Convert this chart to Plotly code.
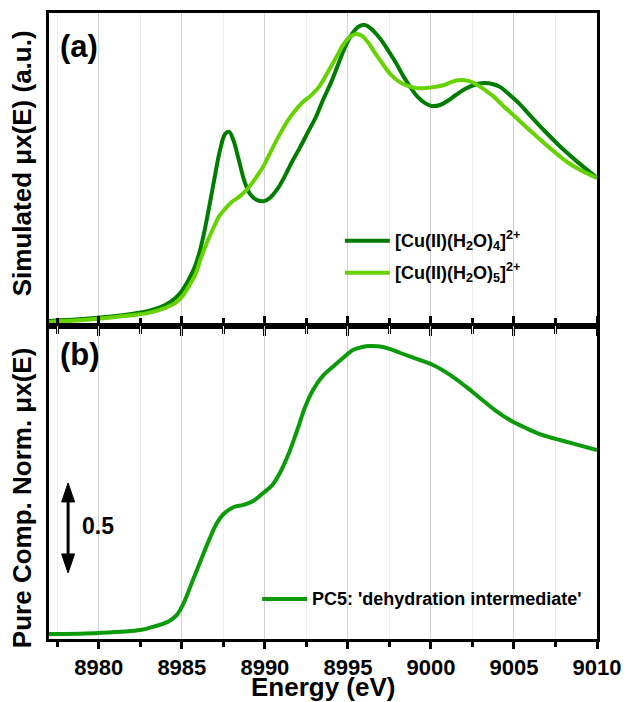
import plotly.graph_objects as go

# ---- (a) simulated XANES spectra ----
energy_a4 = [8977.0, 8979.0, 8981.0, 8983.0, 8984.0, 8984.6, 8985.0, 8985.4, 8985.8, 8986.1,
             8986.4, 8986.7, 8987.0, 8987.3, 8987.6, 8987.85, 8988.1, 8988.4, 8988.75, 8989.1,
             8989.5, 8989.95, 8990.3, 8990.8, 8991.2, 8991.6, 8992.1, 8992.6, 8993.1, 8993.5,
             8994.0, 8994.4, 8994.8, 8995.25, 8995.6, 8995.9, 8996.2, 8996.55, 8997.0, 8997.4,
             8997.9, 8998.3, 8998.8, 8999.2, 8999.65, 9000.05, 9000.55, 9001.0, 9001.5, 9002.05,
             9002.6, 9003.2, 9003.7, 9004.15, 9004.75, 9005.35, 9005.95, 9006.85, 9007.75, 9008.7,
             9010.0]
mu_cu_h2o4 = [0.016, 0.022, 0.032, 0.048, 0.067, 0.089, 0.112, 0.147, 0.192, 0.243,
              0.313, 0.396, 0.482, 0.562, 0.613, 0.620, 0.594, 0.537, 0.466, 0.422,
              0.403, 0.399, 0.409, 0.441, 0.479, 0.521, 0.569, 0.620, 0.671, 0.722,
              0.780, 0.834, 0.888, 0.933, 0.955, 0.962, 0.958, 0.942, 0.914, 0.882,
              0.840, 0.802, 0.760, 0.732, 0.712, 0.703, 0.706, 0.719, 0.738, 0.757,
              0.770, 0.776, 0.773, 0.764, 0.738, 0.709, 0.674, 0.623, 0.575, 0.530,
              0.473]

energy_a5 = [8977.0, 8979.0, 8981.0, 8983.0, 8984.0, 8984.6, 8985.0, 8985.4, 8985.8, 8986.15,
             8986.5, 8986.9, 8987.25, 8987.6, 8988.0, 8988.5, 8989.0, 8989.45, 8989.95, 8990.4,
             8990.9, 8991.4, 8991.9, 8992.35, 8992.85, 8993.3, 8993.8, 8994.3, 8994.75, 8995.1,
             8995.5, 8995.85, 8996.2, 8996.6, 8997.1, 8997.6, 8998.1, 8998.6, 8999.15, 8999.7,
             9000.25, 9000.8, 9001.25, 9001.75, 9002.25, 9002.7, 9003.25, 9003.8, 9004.35, 9004.9,
             9005.6, 9006.4, 9007.3, 9008.2, 9009.1, 9010.0]
mu_cu_h2o5 = [0.013, 0.019, 0.029, 0.042, 0.058, 0.073, 0.093, 0.125, 0.163, 0.217,
              0.265, 0.313, 0.351, 0.374, 0.396, 0.415, 0.441, 0.473, 0.514, 0.562,
              0.613, 0.658, 0.693, 0.719, 0.740, 0.767, 0.812, 0.859, 0.901, 0.923,
              0.933, 0.927, 0.907, 0.875, 0.837, 0.802, 0.780, 0.767, 0.760, 0.760,
              0.764, 0.770, 0.780, 0.786, 0.783, 0.773, 0.754, 0.732, 0.703, 0.677,
              0.642, 0.604, 0.562, 0.524, 0.495, 0.473]

# ---- (b) pure component PC5 ----
energy_b = [8977.0, 8980.0, 8982.5, 8983.25, 8983.85, 8984.3, 8984.7, 8985.05, 8985.35, 8985.65,
            8986.1, 8986.7, 8987.1, 8987.5, 8988.1, 8988.7, 8989.3, 8989.9, 8990.45, 8990.9,
            8991.4, 8991.95, 8992.4, 8992.9, 8993.5, 8994.1, 8994.7, 8995.3, 8995.85, 8996.35,
            8996.95, 8997.55, 8998.15, 8999.35, 9000.25, 9001.15, 9002.05, 9002.95, 9003.85, 9004.75,
            9005.65, 9006.55, 9007.45, 9008.35, 9010.0]
mu_pc5 = [0.000, 0.006, 0.022, 0.039, 0.056, 0.075, 0.106, 0.160, 0.225, 0.295,
          0.400, 0.535, 0.615, 0.665, 0.704, 0.717, 0.739, 0.783, 0.828, 0.894,
          0.994, 1.133, 1.255, 1.355, 1.435, 1.485, 1.533, 1.578, 1.594, 1.600,
          1.597, 1.583, 1.561, 1.522, 1.489, 1.439, 1.378, 1.311, 1.244, 1.189,
          1.147, 1.110, 1.085, 1.063, 1.022]

name_a4 = "[Cu(II)(H<sub>2</sub>O)<sub>4</sub>]<sup>2+</sup>"
name_a5 = "[Cu(II)(H<sub>2</sub>O)<sub>5</sub>]<sup>2+</sup>"
name_b = "PC5: 'dehydration intermediate'"

x_range = [8977, 9010]
x_ticks = [8980, 8985, 8990, 8995, 9000, 9005, 9010]
scale_bar = 0.5          # length of the vertical scale arrow in (b)
scale_bar_base = 0.339   # lower end of the scale arrow
scale_bar_x = 8978.15

c_dark = "#007d00"
c_light = "#66d200"
c_pc5 = "#0a9a0a"
FONT = "Liberation Sans"
SMOOTH = 1.0

fig = go.Figure()
fig.add_trace(go.Scatter(x=energy_a4, y=mu_cu_h2o4, name=name_a4, mode="lines",
                         line=dict(color=c_dark, width=4, shape="spline", smoothing=SMOOTH),
                         xaxis="x", yaxis="y", showlegend=False))
fig.add_trace(go.Scatter(x=energy_a5, y=mu_cu_h2o5, name=name_a5, mode="lines",
                         line=dict(color=c_light, width=4, shape="spline", smoothing=SMOOTH),
                         xaxis="x", yaxis="y", showlegend=False))
fig.add_trace(go.Scatter(x=energy_b, y=mu_pc5, name=name_b, mode="lines",
                         line=dict(color=c_pc5, width=4, shape="spline", smoothing=SMOOTH),
                         xaxis="x2", yaxis="y2", showlegend=False))

common_x = dict(range=x_range, tickvals=x_ticks, showline=True, linewidth=3, linecolor="black",
                ticks="outside", ticklen=7, tickwidth=3, tickcolor="black", automargin=False,
                showgrid=True, gridcolor="#d2d2d2", gridwidth=1, zeroline=False,
                minor=dict(dtick=2.5, ticks="outside", ticklen=5, tickwidth=3, tickcolor="black",
                           showgrid=True, gridcolor="#ededed", gridwidth=1),
                tickfont=dict(family=FONT, size=22, color="black", weight="bold"))
common_y = dict(showline=True, linewidth=3, linecolor="black", mirror=True, ticks="",
                showticklabels=False, showgrid=False, zeroline=False, automargin=False)

fig.update_layout(
    width=624, height=702,
    margin=dict(l=49, r=27, t=13, b=63),
    paper_bgcolor="white", plot_bgcolor="white",
    font=dict(family=FONT, color="black"),
    xaxis=dict(common_x, anchor="y", mirror=True, showticklabels=False),
    yaxis=dict(common_y, domain=[0.5, 1.0], range=[0, 1.0]),
    xaxis2=dict(common_x, anchor="y2", mirror="ticks"),
    yaxis2=dict(common_y, domain=[0.0, 0.5], range=[-0.028, 1.711]),
)

bold = dict(family=FONT, color="black", weight="bold")
annotations = [
    dict(text="Energy (eV)", xref="paper", yref="paper", x=0.5, y=0, yshift=-48,
         xanchor="center", yanchor="middle", showarrow=False, font=dict(bold, size=26)),
    dict(text="Simulated μx(E) (a.u.)", xref="paper", yref="paper", x=0, y=0.76,
         xanchor="center", yanchor="middle", xshift=-27, textangle=-90, showarrow=False,
         font=dict(bold, size=26)),
    dict(text="Pure Comp. Norm. μx(E)", xref="paper", yref="paper", x=0, y=0.225,
         xanchor="center", yanchor="middle", xshift=-27, textangle=-90, showarrow=False,
         font=dict(bold, size=26)),
    dict(text="(a)", xref="paper", yref="paper", x=0.017, y=0.946, xanchor="left",
         yanchor="middle", showarrow=False, font=dict(bold, size=31)),
    dict(text="(b)", xref="paper", yref="paper", x=0.017, y=0.454, xanchor="left",
         yanchor="middle", showarrow=False, font=dict(bold, size=31)),
    dict(text="0.5", xref="paper", yref="paper", x=0.089, y=0.1805, xanchor="center",
         yanchor="middle", showarrow=False, font=dict(bold, size=23)),
]

# hand-drawn legend entries
legend_rows = [
    (name_a4, c_dark, 0.540, 0.622, 0.636),
    (name_a5, c_light, 0.540, 0.622, 0.585),
    (name_b, c_pc5, 0.389, 0.471, 0.064),
]
shapes = []
for text, col, x0, x1, y in legend_rows:
    shapes.append(dict(type="line", xref="paper", yref="paper", x0=x0, x1=x1, y0=y, y1=y,
                       line=dict(color=col, width=4)))
    annotations.append(dict(text=text, xref="paper", yref="paper", x=x1 + 0.006, y=y,
                            xanchor="left", yanchor="middle", showarrow=False,
                            font=dict(bold, size=18)))

# vertical scale arrow in (b)
top_end = scale_bar_base + scale_bar
head_len, head_half = 19, 6.5
shapes.append(dict(type="line", xref="x2", yref="y2", x0=scale_bar_x, x1=scale_bar_x,
                   y0=scale_bar_base + 0.06, y1=top_end - 0.06, line=dict(color="black", width=3)))
shapes.append(dict(type="path", xref="x2", yref="y2", xsizemode="pixel", ysizemode="pixel",
                   xanchor=scale_bar_x, yanchor=top_end,
                   path=f"M0,0 L{-head_half},{-head_len} L{head_half},{-head_len} Z",
                   fillcolor="black", line=dict(color="black", width=1)))
shapes.append(dict(type="path", xref="x2", yref="y2", xsizemode="pixel", ysizemode="pixel",
                   xanchor=scale_bar_x, yanchor=scale_bar_base,
                   path=f"M0,0 L{-head_half},{head_len} L{head_half},{head_len} Z",
                   fillcolor="black", line=dict(color="black", width=1)))

fig.update_layout(annotations=annotations, shapes=shapes)
fig.write_html("out.html")
